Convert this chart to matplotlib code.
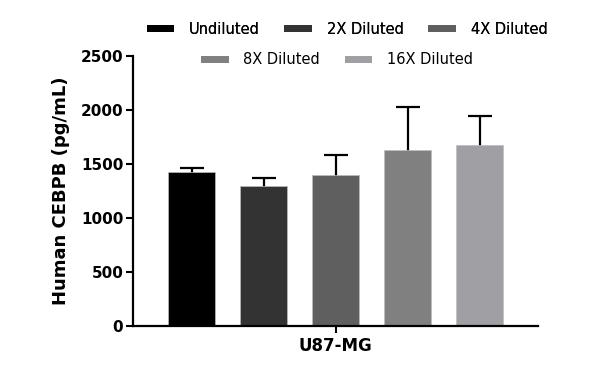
import matplotlib.pyplot as plt
from matplotlib.patches import Patch
import numpy as np

groups = ["Undiluted", "2X Diluted", "4X Diluted", "8X Diluted", "16X Diluted"]
means = [1430, 1292, 1398, 1630, 1676]
sds = [32, 76, 185, 395, 271]
colors = ["#000000", "#333333", "#5f5f5f", "#808080", "#a0a0a4"]
category = "U87-MG"

fig = plt.figure(figsize=(6.0, 3.83), dpi=100)
ax = fig.add_axes([133/600, 57/383, 405/600, 270/383])

xpos = np.arange(len(groups))
for i in range(len(groups)):
    ax.bar(xpos[i], means[i], width=0.65, color=colors[i], edgecolor="#bdbdbd",
           linewidth=0.5, zorder=2)
    # symmetric bars; the lower half hides behind the bar
    ax.errorbar(xpos[i], means[i], yerr=sds[i], fmt="none", ecolor="black",
                elinewidth=1.6, capsize=8.5, capthick=1.6, zorder=1)

ax.set_xlim(-0.8125, 4.81)
ax.set_ylim(0, 2500)
ax.set_yticks([0, 500, 1000, 1500, 2000, 2500])
ax.set_xticks([2])
ax.set_xticklabels([category], fontsize=12, fontweight="bold")
ax.set_ylabel("Human CEBPB (pg/mL)", fontsize=13, fontweight="bold", labelpad=8)
for lab in ax.get_yticklabels():
    lab.set_fontweight("bold")
    lab.set_fontsize(11)
ax.tick_params(axis="both", width=1.5, length=5, direction="out")
ax.tick_params(axis="x", pad=3)
ax.tick_params(axis="y", pad=2)
for s in ["top", "right"]:
    ax.spines[s].set_visible(False)
for s in ["left", "bottom"]:
    ax.spines[s].set_linewidth(1.6)
    ax.spines[s].set_zorder(3)

handles = [Patch(facecolor=c, edgecolor="none") for c in colors]
kw = dict(frameon=False, fontsize=10.5, handlelength=1.9, handleheight=0.4,
          handletextpad=1.0, columnspacing=1.7, borderpad=0, borderaxespad=0)
leg1 = fig.legend(handles[:3], groups[:3], ncol=3, loc="center",
                  bbox_to_anchor=(347/600, 1 - 29/383), **kw)
fig.add_artist(leg1)
leg2 = fig.legend(handles[3:], groups[3:], ncol=2, loc="center",
                  bbox_to_anchor=(337/600, 1 - 60/383), **kw)

fig.savefig("out.png", dpi=100)
